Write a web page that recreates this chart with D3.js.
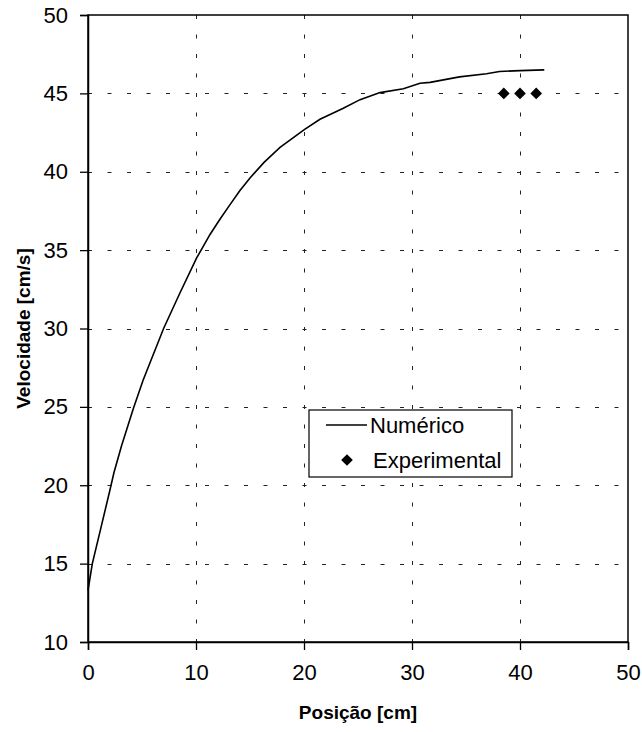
<!DOCTYPE html>
<html>
  <head>
    <meta charset="utf-8">
    <title>Velocidade x Posição</title>
    <script src="https://cdnjs.cloudflare.com/ajax/libs/d3/7.8.5/d3.min.js"></script>
    <style>
      body { margin: 0; background: #fff; }
      text { font-family: Arial, "Liberation Sans", sans-serif; fill: #000; }
    </style>
  </head>
  <body>
    <svg width="642" height="732"></svg>
    <script>
      // curva numérica
      const posicao = [0, 0.4, 1.2, 2.0, 2.4, 3.1, 4.2, 5.1, 7.0, 8.5, 10.06, 11.3, 12.2, 13.15, 14.07, 15.0,
        16.3, 17.78, 20.06, 21.48, 23.64, 25.19, 27.04, 29.2, 30.74, 31.67, 34.4, 36.9, 38.1, 40.0, 42.25]
      const velocidade = [13.3, 15.0, 17.3, 19.6, 20.8, 22.5, 24.9, 26.7, 30.0, 32.25, 34.5, 36.0, 36.95, 37.9, 38.8, 39.6,
        40.6, 41.55, 42.7, 43.35, 44.05, 44.6, 45.05, 45.3, 45.65, 45.7, 46.05, 46.25, 46.4, 46.45, 46.5]

      // pontos experimentais
      const expX = [38.5, 40, 41.5]
      const expY = [45, 45, 45]

      const xTicks = [0, 10, 20, 30, 40, 50]
      const yTicks = [10, 15, 20, 25, 30, 35, 40, 45, 50]

      const svg = d3.select('svg')
      const pLeft = 88, pRight = 628, pTop = 15, pBottom = 642

      const x = d3.scaleLinear().domain([0, 50]).range([pLeft, pRight])
      const y = d3.scaleLinear().domain([10, 50]).range([pBottom, pTop])

      // grade tracejada
      const grid = svg.append('g').attr('stroke', '#222').attr('stroke-width', 1).attr('stroke-dasharray', '4,15.5')
      grid.selectAll('.gx').data(xTicks.slice(1, -1)).enter().append('line')
        .attr('x1', d => Math.round(x(d)) + 0.5).attr('x2', d => Math.round(x(d)) + 0.5)
        .attr('y1', pTop).attr('y2', pBottom)
      grid.selectAll('.gy').data(yTicks.slice(1, -1)).enter().append('line')
        .attr('y1', d => Math.round(y(d)) + 0.5).attr('y2', d => Math.round(y(d)) + 0.5)
        .attr('x1', pLeft).attr('x2', pRight)

      // moldura
      svg.append('rect')
        .attr('x', pLeft).attr('y', pTop).attr('width', pRight - pLeft).attr('height', pBottom - pTop)
        .attr('fill', 'none').attr('stroke', '#000').attr('stroke-width', 1.5)

      // eixos
      const xAxis = svg.append('g').attr('transform', `translate(0,${pBottom})`)
        .call(d3.axisBottom(x).tickValues(xTicks).tickSize(8).tickPadding(14))
      const yAxis = svg.append('g').attr('transform', `translate(${pLeft},0)`)
        .call(d3.axisLeft(y).tickValues(yTicks).tickSize(8).tickPadding(12))
      for (const ax of [xAxis, yAxis]) {
        ax.select('.domain').attr('stroke-width', 1.5)
        ax.selectAll('.tick line').attr('stroke-width', 1.3)
        ax.selectAll('.tick text').attr('font-size', 22).attr('font-family', 'Arial, "Liberation Sans", sans-serif')
      }

      // curva
      const line = d3.line().x((d, i) => x(posicao[i])).y(d => y(d))
      svg.append('path').datum(velocidade)
        .attr('d', line).attr('fill', 'none').attr('stroke', '#000').attr('stroke-width', 1.6)

      // losangos
      const diamond = d3.symbol().type(d3.symbolSquare).size(68)
      svg.append('g').selectAll('path').data(expX).enter().append('path')
        .attr('d', diamond)
        .attr('transform', (d, i) => `translate(${x(d)},${y(expY[i])}) rotate(45)`)
        .attr('fill', '#000')

      // títulos dos eixos
      svg.append('text').attr('x', (pLeft + pRight) / 2).attr('y', 719)
        .attr('text-anchor', 'middle').attr('font-size', 19).attr('font-weight', 'bold')
        .text('Posição [cm]')
      svg.append('text').attr('transform', `translate(30,${(pTop + pBottom) / 2}) rotate(-90)`)
        .attr('text-anchor', 'middle').attr('font-size', 19).attr('font-weight', 'bold')
        .text('Velocidade [cm/s]')

      // legenda
      const lg = svg.append('g')
      lg.append('rect').attr('x', 309).attr('y', 410).attr('width', 203).attr('height', 67)
        .attr('fill', '#fff').attr('stroke', '#000').attr('stroke-width', 1.2)
      lg.append('line').attr('x1', 326).attr('x2', 367).attr('y1', 425).attr('y2', 425)
        .attr('stroke', '#000').attr('stroke-width', 1.6)
      lg.append('text').attr('x', 370).attr('y', 433).attr('font-size', 22).text('Numérico')
      lg.append('path').attr('d', diamond).attr('transform', 'translate(347,460) rotate(45)').attr('fill', '#000')
      lg.append('text').attr('x', 373).attr('y', 468).attr('font-size', 22).text('Experimental')
    </script>
  </body>
</html>
